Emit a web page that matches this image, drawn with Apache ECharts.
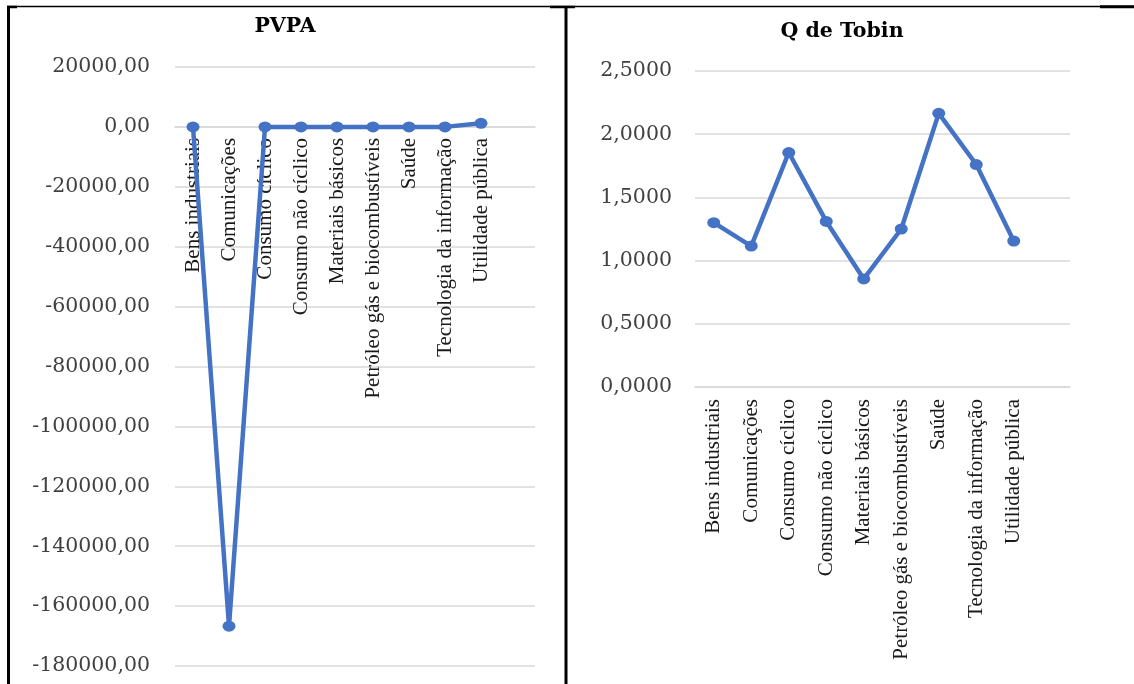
<!DOCTYPE html>
<html>
<head>
<meta charset="utf-8">
<title>PVPA e Q de Tobin por setor</title>
<script src="https://cdn.jsdelivr.net/npm/echarts@6/dist/echarts.min.js"></script>
<style>
  html, body { margin: 0; padding: 0; background: #ffffff; }
  #chart { width: 1134px; height: 684px; }
</style>
</head>
<body>
<div id="chart"></div>
<script>
// Setores
const sectors = [
  'Bens industriais',
  'Comunicações',
  'Consumo cíclico',
  'Consumo não cíclico',
  'Materiais básicos',
  'Petróleo gás e biocombustíveis',
  'Saúde',
  'Tecnologia da informação',
  'Utilidade pública'
];

// PVPA por setor
const pvpa = [2.1, -166700, 3.5, 4.1, 2.3, 1.6, 5.2, 7.8, 1200];

// Q de Tobin por setor
const tobin = [1.30, 1.115, 1.855, 1.31, 0.855, 1.25, 2.165, 1.76, 1.155];

// Escalas dos eixos verticais
const pvpaScale = { min: -180000, max: 20000, step: 20000, decimals: 2 };
const tobinScale = { min: 0, max: 2.5, step: 0.5, decimals: 4 };

const blue = '#4472C4';
const gridGray = '#d9d9d9';
const labelGray = '#404040';

const CHART_H = 684;
const grids = [
  { left: 175, right: 599, top: 67, bottom: 18 },
  { left: 695, right: 64, top: 71, bottom: 297 }
];

// Categoria extra vazia deixa espaço à direita dos pontos
const axisCats = sectors.concat(['']);

function commaFmt(decimals) {
  return function (v) { return v.toFixed(decimals).replace('.', ','); };
}

// Deslocamento do eixo de categorias até a linha do zero da escala
function zeroOffset(g, scale) {
  const h = CHART_H - g.top - g.bottom;
  return -h * (0 - scale.min) / (scale.max - scale.min);
}

function valueAxis(gridIndex, scale, margin) {
  return {
    type: 'value',
    gridIndex: gridIndex,
    min: scale.min,
    max: scale.max,
    interval: scale.step,
    axisLine: { show: false },
    axisTick: { show: false },
    splitLine: { lineStyle: { color: gridGray, width: 1.5 } },
    axisLabel: {
      margin: margin,
      color: labelGray,
      fontFamily: 'DejaVu Serif',
      fontSize: 20.5,
      formatter: commaFmt(scale.decimals)
    }
  };
}

function catAxis(gridIndex, scale, margin) {
  return {
    type: 'category',
    gridIndex: gridIndex,
    data: axisCats,
    boundaryGap: true,
    position: 'bottom',
    offset: zeroOffset(grids[gridIndex], scale),
    axisLine: { show: true, onZero: false, lineStyle: { color: gridGray, width: 1.5 } },
    axisTick: { show: false },
    splitLine: { show: false },
    axisLabel: {
      interval: 0,
      rotate: 90,
      margin: margin,
      color: '#1a1a1a',
      fontFamily: 'Liberation Serif',
      fontSize: 21
    }
  };
}

function lineSeries(axisIndex, values) {
  return {
    type: 'line',
    xAxisIndex: axisIndex,
    yAxisIndex: axisIndex,
    data: values,
    symbol: 'circle',
    symbolSize: [13, 11],
    showSymbol: true,
    lineStyle: { color: blue, width: 4.5 },
    itemStyle: { color: blue },
    z: 3
  };
}

function titleText(x, y, text) {
  return {
    type: 'text',
    x: x,
    y: y,
    style: {
      text: text,
      fill: '#000000',
      font: 'bold 20.5px "DejaVu Serif"',
      align: 'center',
      verticalAlign: 'middle'
    }
  };
}

function rule(x1, y1, x2, y2, w) {
  return {
    type: 'line',
    shape: { x1: x1, y1: y1, x2: x2, y2: y2 },
    style: { stroke: '#000000', lineWidth: w }
  };
}

const chart = echarts.init(document.getElementById('chart'));

chart.setOption({
  animation: false,
  backgroundColor: '#ffffff',
  grid: grids.map(function (g) {
    return Object.assign({ outerBoundsMode: 'none', containLabel: false }, g);
  }),
  xAxis: [catAxis(0, pvpaScale, 11), catAxis(1, tobinScale, 12)],
  yAxis: [valueAxis(0, pvpaScale, 25), valueAxis(1, tobinScale, 23)],
  series: [lineSeries(0, pvpa), lineSeries(1, tobin)],
  graphic: [
    titleText(285, 27, 'PVPA'),
    titleText(842, 32, 'Q de Tobin'),
    // moldura dos dois quadros
    rule(7, 6.5, 1134, 6.5, 1.5),
    rule(8.5, 6, 8.5, 684, 3),
    rule(7, 7, 17, 7, 2.5),
    rule(566, 6, 566, 684, 3),
    rule(550, 7, 575, 7, 2.5),
    rule(1100, 6.8, 1134, 6.8, 3)
  ]
});
</script>
</body>
</html>
